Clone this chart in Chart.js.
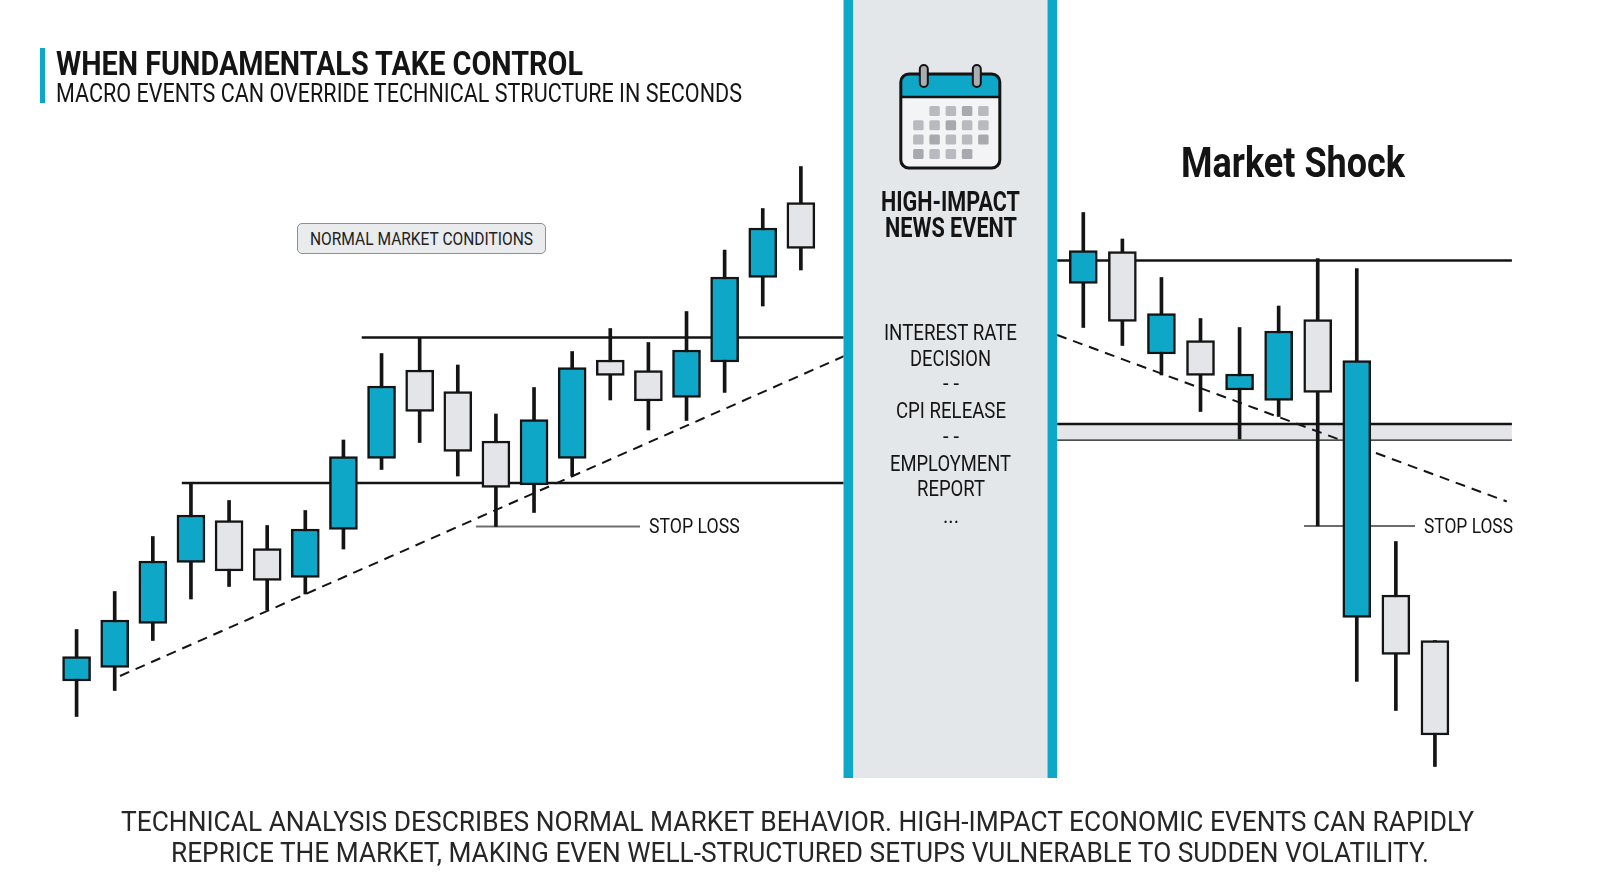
<!DOCTYPE html>
<html>
<head>
<meta charset="utf-8">
<title>When fundamentals take control</title>
<script src="https://cdn.jsdelivr.net/npm/chart.js@4.4.1/dist/chart.umd.min.js"></script>
<style>
  html, body { margin: 0; padding: 0; background: #ffffff; }
  #wrap { position: relative; width: 1600px; height: 893px; overflow: hidden; font-family: Roboto, "Noto Sans", sans-serif; }
  #chart { position: absolute; left: 0; top: 0; }
  .t { position: absolute; white-space: nowrap; line-height: 1; transform-origin: 0 0; }
  .b { display: inline-block; width: 0; height: 0; vertical-align: baseline; }
  #accent { position: absolute; left: 40px; top: 48px; width: 4.5px; height: 55px; background: #0ea7c8; }
  #tag { position: absolute; left: 297px; top: 222.5px; width: 249px; height: 31px; box-sizing: border-box;
         border: 1.5px solid #8c8f93; border-radius: 5px; background: #e9ebed; }
</style>
</head>
<body>
<div id="wrap">
  <canvas id="chart" width="1600" height="893"></canvas>
  <div id="accent"></div>
  <div id="tag"></div>
</div>
<script>
// Normal market sessions (left panel), prices
const normalOpen  = [23.8, 26.5, 35.3, 47.5, 55.9, 50.3, 44.5, 54.1, 68.3, 86.0, 81.7, 71.8, 63.0, 68.3, 88.0, 85.9, 80.5, 87.6, 104.5, 119.5];
const normalHigh  = [34.1, 41.7, 52.7, 63.3, 59.9, 54.9, 57.9, 72.0, 89.3, 92.5, 87.0, 77.2, 82.5, 89.7, 94.3, 91.5, 97.7, 110.0, 118.3, 126.7];
const normalLow   = [16.7, 21.9, 31.9, 40.2, 42.7, 38.0, 41.2, 50.2, 66.1, 71.5, 64.8, 54.7, 57.5, 64.8, 80.0, 74.0, 75.9, 81.5, 98.8, 106.0];
const normalClose = [28.7, 36.0, 47.8, 57.0, 45.8, 43.9, 54.2, 68.7, 82.8, 77.7, 69.7, 62.5, 76.1, 86.5, 84.9, 79.8, 90.0, 104.6, 114.4, 110.3];

// Sessions after the news (right panel, counted from 0 again)
const shockOpen  = [103.3, 109.7, 89.2, 91.9, 82.0, 79.9, 96.1, 36.5, 41.0, 31.9];
const shockHigh  = [117.5, 112.2, 104.5, 96.3, 94.5, 98.8, 108.3, 106.3, 51.7, 31.9];
const shockLow   = [94.5, 90.9, 85.0, 77.7, 72.2, 76.7, 54.8, 23.7, 17.9, 6.7];
const shockClose = [109.9, 95.7, 97.3, 84.9, 85.2, 93.8, 81.5, 87.9, 29.1, 13.0];

// News window in normal-session units, and the price where it ends
const newsWindow = [20.12, 25.72];
const newsFloor = 4.4;

// Horizontal levels: [from session, to session, price]
const normalSupport    = [2.76, 20.15, 63.4];
const normalResistance = [7.48, 20.15, 92.5];
const normalStop       = [10.48, 14.78, 54.7];
const shockResistance  = [-0.67, 10.97, 107.9];
const shockZone        = [-0.67, 10.97, 75.2, 72.1];
const shockStop        = [5.65, 8.49, 54.8];

// Trend lines: [session, price] pairs
const normalTrend = [[1.14, 24.8], [20.29, 89.3]];
const shockTrend  = [[-0.67, 93.0], [10.84, 59.7]];

// Visible windows
const normalRange = [-2.009, 39.963];
const shockRange = [-27.727, 13.225];
const priceRange = [-18.6, 160];

const CYAN = "#0ea7c8";
const CANDLE_GRAY = "#e3e5e8";
const INK = "#141414";

function bodies(open, close) {
  return open.map((o, i) => ({ x: i, y: [o, close[i]] }));
}

function wicks(low, high) {
  return low.map((l, i) => ({ x: i, y: [l, high[i]] }));
}

function bodyColors(open, close) {
  return open.map((o, i) => (close[i] > o ? CYAN : CANDLE_GRAY));
}

function levelLine(level, axis, color, width) {
  return {
    type: "line",
    xAxisID: axis,
    data: [{ x: level[0], y: level[2] }, { x: level[1], y: level[2] }],
    borderColor: color,
    borderWidth: width,
    pointRadius: 0,
    fill: false,
    order: 5,
  };
}

function trendLine(points, axis) {
  return {
    type: "line",
    xAxisID: axis,
    data: points.map((p) => ({ x: p[0], y: p[1] })),
    borderColor: INK,
    borderWidth: 2,
    borderDash: [10, 7],
    pointRadius: 0,
    fill: false,
    order: 4,
  };
}

function candleSets(open, high, low, close, axis) {
  return [
    {
      type: "bar",
      xAxisID: axis,
      grouped: false,
      borderSkipped: false,
      data: bodies(open, close),
      backgroundColor: bodyColors(open, close),
      borderColor: INK,
      borderWidth: 2.5,
      barThickness: 28,
      order: 0,
    },
    {
      type: "bar",
      xAxisID: axis,
      grouped: false,
      borderSkipped: false,
      data: wicks(low, high),
      backgroundColor: INK,
      borderWidth: 0,
      barThickness: 3,
      order: 1,
    },
  ];
}

// Calendar icon sitting at the top of the news window
function drawCalendar(ctx, cx, top) {
  ctx.lineJoin = "round";
  // page
  ctx.beginPath();
  ctx.roundRect(cx - 49.5, top + 9, 99, 94, 8);
  ctx.fillStyle = "#f3f4f5";
  ctx.fill();
  // header strip
  ctx.beginPath();
  ctx.roundRect(cx - 49.5, top + 9, 99, 23, [8, 8, 0, 0]);
  ctx.fillStyle = CYAN;
  ctx.fill();
  ctx.beginPath();
  ctx.moveTo(cx - 49.5, top + 32);
  ctx.lineTo(cx + 49.5, top + 32);
  ctx.lineWidth = 2.5;
  ctx.strokeStyle = INK;
  ctx.stroke();
  ctx.beginPath();
  ctx.roundRect(cx - 49.5, top + 9, 99, 94, 8);
  ctx.lineWidth = 3;
  ctx.stroke();
  // rings
  [-26.5, 26.5].forEach((dx) => {
    ctx.beginPath();
    ctx.roundRect(cx + dx - 4, top, 8, 22, 4);
    ctx.fillStyle = "#aaaeb2";
    ctx.fill();
    ctx.lineWidth = 2;
    ctx.stroke();
  });
  // day cells
  const rows = [[1, 2, 3, 4], [0, 1, 2, 3, 4], [0, 1, 2, 3, 4], [0, 1, 2, 3]];
  rows.forEach((cols, r) => {
    cols.forEach((c) => {
      ctx.beginPath();
      ctx.roundRect(cx - 37.2 + c * 16.25, top + 41 + r * 14.3, 10.5, 10, 1.5);
      ctx.fillStyle = (r + c) % 3 === 0 ? "#a6aaae" : "#b7bbbf";
      ctx.fill();
    });
  });
}

const newsBand = {
  id: "newsBand",
  afterDatasetsDraw(chart) {
    const { ctx, chartArea, scales } = chart;
    const left = scales.x.getPixelForValue(newsWindow[0]);
    const right = scales.x.getPixelForValue(newsWindow[1]);
    const bottom = scales.y.getPixelForValue(newsFloor);
    const top = chartArea.top;
    ctx.save();
    ctx.fillStyle = "#e4e7ea";
    ctx.fillRect(left, top, right - left, bottom - top);
    ctx.fillStyle = CYAN;
    ctx.fillRect(left, top, 9.5, bottom - top);
    ctx.fillRect(right - 9.5, top, 9.5, bottom - top);
    drawCalendar(ctx, (left + right) / 2, top + 65);
    ctx.restore();
  },
};

new Chart(document.getElementById("chart").getContext("2d"), {
  type: "bar",
  data: {
    datasets: [
      ...candleSets(normalOpen, normalHigh, normalLow, normalClose, "x"),
      ...candleSets(shockOpen, shockHigh, shockLow, shockClose, "xShock"),
      levelLine(normalSupport, "x", INK, 2.5),
      levelLine(normalResistance, "x", INK, 2.5),
      levelLine(normalStop, "x", "#6b6e71", 2),
      levelLine(shockResistance, "xShock", INK, 2.5),
      levelLine(shockStop, "xShock", "#6b6e71", 2),
      // broken support zone after the news
      {
        type: "line",
        xAxisID: "xShock",
        data: [{ x: shockZone[0], y: shockZone[2] }, { x: shockZone[1], y: shockZone[2] }],
        borderColor: INK,
        borderWidth: 2.5,
        pointRadius: 0,
        backgroundColor: "#e3e5e8",
        fill: "+1",
        order: 6,
      },
      {
        type: "line",
        xAxisID: "xShock",
        data: [{ x: shockZone[0], y: shockZone[3] }, { x: shockZone[1], y: shockZone[3] }],
        borderColor: INK,
        borderWidth: 2.5,
        pointRadius: 0,
        fill: false,
        order: 6,
      },
      trendLine(normalTrend, "x"),
      trendLine(shockTrend, "xShock"),
    ],
  },
  options: {
    responsive: false,
    animation: false,
    devicePixelRatio: 1,
    layout: { padding: 0 },
    plugins: {
      legend: { display: false },
      tooltip: { enabled: false },
      title: { display: false },
    },
    scales: {
      x: { type: "linear", min: normalRange[0], max: normalRange[1], offset: false, display: false },
      xShock: { type: "linear", axis: "x", position: "bottom", min: shockRange[0], max: shockRange[1], offset: false, display: false },
      y: { type: "linear", min: priceRange[0], max: priceRange[1], display: false },
    },
  },
  plugins: [newsBand],
});

// Text, sized to the widths of the original lettering
const wrap = document.getElementById("wrap");
const texts = [
  { text: "WHEN FUNDAMENTALS TAKE CONTROL", x: 56, baseline: 74.5, width: 527, size: 33, weight: 700 },
  { text: "MACRO EVENTS CAN OVERRIDE TECHNICAL STRUCTURE IN SECONDS", x: 56, baseline: 102, width: 686, size: 26.7 },
  { text: "NORMAL MARKET CONDITIONS", x: 310, baseline: 245, width: 223, size: 18.7, color: "#222" },
  { text: "HIGH-IMPACT", x: 950.5, baseline: 211, width: 139, size: 28, weight: 700, align: "center" },
  { text: "NEWS EVENT", x: 950.5, baseline: 237, width: 132, size: 28, weight: 700, align: "center" },
  { text: "INTEREST RATE", x: 950.5, baseline: 340, width: 133, size: 22, align: "center" },
  { text: "DECISION", x: 950.5, baseline: 366, width: 81, size: 22, align: "center" },
  { text: "- -", x: 950.5, baseline: 391, width: 16, size: 22, align: "center" },
  { text: "CPI RELEASE", x: 950.5, baseline: 418, width: 110, size: 22, align: "center" },
  { text: "- -", x: 950.5, baseline: 444, width: 16, size: 22, align: "center" },
  { text: "EMPLOYMENT", x: 950.5, baseline: 471, width: 121, size: 22, align: "center" },
  { text: "REPORT", x: 950.5, baseline: 496, width: 68, size: 22, align: "center" },
  { text: "...", x: 950.5, baseline: 523, width: 16, size: 22, align: "center" },
  { text: "STOP LOSS", x: 649.3, baseline: 533, width: 90.7, size: 20 },
  { text: "STOP LOSS", x: 1424, baseline: 533, width: 89, size: 20 },
  { text: "Market Shock", x: 1180.7, baseline: 176.7, width: 224, size: 42, weight: 700 },
  { text: "TECHNICAL ANALYSIS DESCRIBES NORMAL MARKET BEHAVIOR. HIGH-IMPACT ECONOMIC EVENTS CAN RAPIDLY",
    x: 797, baseline: 830.7, width: 1353, size: 28, color: "#262626", align: "center" },
  { text: "REPRICE THE MARKET, MAKING EVEN WELL-STRUCTURED SETUPS VULNERABLE TO SUDDEN VOLATILITY.",
    x: 800, baseline: 861.7, width: 1258, size: 28, color: "#262626", align: "center" },
];

texts.forEach((item) => {
  const el = document.createElement("div");
  el.className = "t";
  el.style.fontSize = item.size + "px";
  el.style.fontWeight = item.weight || 400;
  el.style.color = item.color || INK;
  el.textContent = item.text;
  const mark = document.createElement("span");
  mark.className = "b";
  el.appendChild(mark);
  wrap.appendChild(el);
  const natural = el.getBoundingClientRect().width;
  const base = mark.offsetTop;
  const left = item.align === "center" ? item.x - item.width / 2 : item.x;
  el.style.left = left + "px";
  el.style.top = item.baseline - base + "px";
  el.style.transform = "scaleX(" + (item.width / natural).toFixed(4) + ")";
});
</script>
</body>
</html>
